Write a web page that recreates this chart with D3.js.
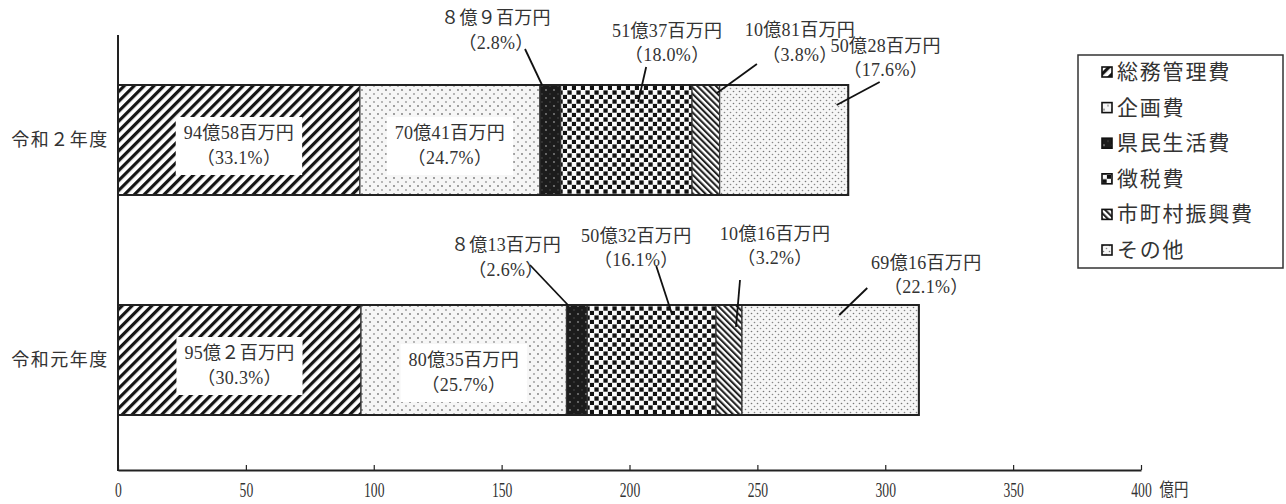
<!DOCTYPE html>
<html><head><meta charset="utf-8">
<script src="https://cdn.jsdelivr.net/npm/d3@7"></script>
<style>
html,body{margin:0;padding:0;background:#fff;}
svg{display:block;}
text{fill:#333;}
</style></head>
<body>
<svg id="chart" width="1286" height="504"></svg>
<script>
// ---------- data ----------
const categories = ["令和２年度", "令和元年度"];
const seriesNames = ["総務管理費", "企画費", "県民生活費", "徴税費", "市町村振興費", "その他"];
const valuesR2 = [94.58, 70.41, 8.09, 51.37, 10.81, 50.28];
const valuesR1 = [95.02, 80.35, 8.13, 50.32, 10.16, 69.16];
const amountLabelsR2 = ["94億58百万円", "70億41百万円", "８億９百万円", "51億37百万円", "10億81百万円", "50億28百万円"];
const amountLabelsR1 = ["95億２百万円", "80億35百万円", "８億13百万円", "50億32百万円", "10億16百万円", "69億16百万円"];
const percentLabelsR2 = ["（33.1%）", "（24.7%）", "（2.8%）", "（18.0%）", "（3.8%）", "（17.6%）"];
const percentLabelsR1 = ["（30.3%）", "（25.7%）", "（2.6%）", "（16.1%）", "（3.2%）", "（22.1%）"];
const xTicks = [0, 50, 100, 150, 200, 250, 300, 350, 400];
const unitLabel = "億円";

// ---------- layout (label placement, not data) ----------
const labelLayout = [
  [ {inside:true, r1:-7, r2:18},
    {inside:true, r1:-7, r2:18},
    {frac:0.1, ey:0, sx:-17, sy:-36, tx:-46, ty1:-67, ty2:-42},
    {frac:0.59, ey:17, sx:8, sy:-35, tx:29, ty1:-71, ty2:-47},
    {frac:0.9, ey:8, sx:40, sy:-29, tx:83, ty1:-63, ty2:-38},
    {frac:0.91, ey:20, sx:43, sy:-23, tx:49, ty1:-59, ty2:-35} ],
  [ {inside:true, r1:-7, r2:18},
    {inside:true, r1:0, r2:25},
    {frac:0.07, ey:0, sx:-38, sy:-40, tx:-62, ty1:-60, ty2:-35},
    {frac:0.66, ey:10, sx:-16, sy:-49, tx:-36, ty1:-79, ty2:-55},
    {frac:0.77, ey:22, sx:4, sy:-47, tx:39, ty1:-93, ty2:-69},
    {frac:0.55, ey:10, sx:28, sy:-27, tx:87, ty1:-52, ty2:-28} ]
];

const svg = d3.select("#chart");
const FONT = "'Liberation Serif','Noto Sans CJK JP',serif";

// ---------- patterns ----------
const defs = svg.append("defs");
function pat(id, w, h, transform) {
  const p = defs.append("pattern").attr("id", id).attr("patternUnits", "userSpaceOnUse")
    .attr("width", w).attr("height", h);
  if (transform) p.attr("patternTransform", transform);
  return p;
}
let p = pat("p0", 7, 7, "rotate(45)");
p.append("rect").attr("width", 7).attr("height", 7).attr("fill", "#fff");
p.append("rect").attr("width", 3.2).attr("height", 7).attr("fill", "#151515");
p = pat("p1", 8, 8);
p.append("rect").attr("width", 8).attr("height", 8).attr("fill", "#f6f6f6");
p.append("circle").attr("cx", 2).attr("cy", 2).attr("r", 0.9).attr("fill", "#777");
p.append("circle").attr("cx", 6).attr("cy", 6).attr("r", 0.9).attr("fill", "#999");
p = pat("p2", 8, 8);
p.append("rect").attr("width", 8).attr("height", 8).attr("fill", "#1c1c1c");
p.append("circle").attr("cx", 2).attr("cy", 2).attr("r", 0.9).attr("fill", "#888");
p.append("circle").attr("cx", 6).attr("cy", 6).attr("r", 0.7).attr("fill", "#555");
p = pat("p3", 9, 9);
p.append("rect").attr("width", 9).attr("height", 9).attr("fill", "#fafafa");
p.append("rect").attr("x", 0.4).attr("y", 0.4).attr("width", 4.3).attr("height", 4.3).attr("fill", "#111");
p.append("rect").attr("x", 4.9).attr("y", 4.9).attr("width", 4.3).attr("height", 4.3).attr("fill", "#111");
p = pat("p4", 4.4, 4.4, "rotate(-45)");
p.append("rect").attr("width", 4.4).attr("height", 4.4).attr("fill", "#fff");
p.append("rect").attr("width", 2.1).attr("height", 4.4).attr("fill", "#222");
p = pat("p5", 6, 6);
p.append("rect").attr("width", 6).attr("height", 6).attr("fill", "#f6f6f6");
p.append("circle").attr("cx", 1.5).attr("cy", 1.5).attr("r", 0.8).attr("fill", "#777");
p.append("circle").attr("cx", 4.5).attr("cy", 4.5).attr("r", 0.8).attr("fill", "#888");

// ---------- scales ----------
const x = d3.scaleLinear().domain([0, 400]).range([118, 1141]);
const y = d3.scaleBand().domain(categories).range([30, 470]).paddingInner(0.5).paddingOuter(0.25);

const allValues = [valuesR2, valuesR1];
const amountLabels = [amountLabelsR2, amountLabelsR1];
const percentLabels = [percentLabelsR2, percentLabelsR1];

const rows = categories.map((c, ci) => {
  let acc = 0;
  return allValues[ci].map((v, si) => {
    const seg = {cat: c, ci, si, x0: acc, x1: acc + v};
    acc += v;
    return seg;
  });
});

// ---------- bars ----------
const gBars = svg.append("g");
rows.forEach(r => {
  gBars.selectAll(null).data(r).enter().append("rect")
    .attr("x", d => x(d.x0))
    .attr("y", d => y(d.cat))
    .attr("width", d => x(d.x1) - x(d.x0))
    .attr("height", y.bandwidth())
    .attr("fill", d => `url(#p${d.si})`)
    .attr("stroke", "#333").attr("stroke-width", 1.2);
  const tot = r[r.length - 1].x1;
  gBars.append("rect").attr("x", x(0)).attr("y", y(r[0].cat))
    .attr("width", x(tot) - x(0)).attr("height", y.bandwidth())
    .attr("fill", "none").attr("stroke", "#222").attr("stroke-width", 2);
});

// ---------- axes ----------
const gx = svg.append("g").attr("transform", `translate(0,${470})`)
  .call(d3.axisBottom(x).tickValues(xTicks).tickSizeInner(-5).tickSizeOuter(0).tickPadding(14).tickFormat(d3.format("d")));
gx.attr("font-family", null).attr("font-size", null);
gx.select(".domain").attr("stroke", "#222").attr("stroke-width", 2);
gx.selectAll(".tick line").attr("stroke", "#222").attr("stroke-width", 1.2);
gx.selectAll(".tick text").attr("y", 20).attr("dy", null).attr("dominant-baseline", "central")
  .attr("transform", "scale(0.62,1)")
  .style("font-family", FONT).style("font-size", "22px").style("fill", "#333");
svg.append("text").attr("transform", "translate(1174,490) scale(0.8,1)").attr("text-anchor", "middle")
  .attr("dominant-baseline", "central").style("font-family", FONT).style("font-size", "18px").text(unitLabel);

const gy = svg.append("g").attr("transform", `translate(${x(0)},0)`)
  .call(d3.axisLeft(y).tickSize(0).tickPadding(0));
gy.attr("font-family", null).attr("font-size", null);
gy.select(".domain").remove();
svg.append("line").attr("x1", x(0)).attr("x2", x(0)).attr("y1", 35).attr("y2", 471)
  .attr("stroke", "#222").attr("stroke-width", 2);
gy.selectAll(".tick text").attr("x", -58).attr("text-anchor", "middle")
  .style("font-family", FONT).style("font-size", "18px").style("fill", "#333").attr("letter-spacing", 1.5);

// ---------- labels ----------
const gL = svg.append("g").style("font-family", FONT).style("font-size", "18px").attr("letter-spacing", 0.3);
rows.forEach((r, ci) => {
  r.forEach((d, si) => {
    const L = labelLayout[ci][si];
    const a = amountLabels[ci][si], pc = percentLabels[ci][si];
    if (L.inside) {
      const cx = (x(d.x0) + x(d.x1)) / 2;
      const cy = y(d.cat) + y.bandwidth() / 2;
      const box = gL.append("rect").attr("fill", "#fff");
      const t1 = gL.append("text").attr("x", cx).attr("y", cy + L.r1).attr("text-anchor", "middle")
        .attr("dominant-baseline", "central").text(a);
      const t2 = gL.append("text").attr("x", cx).attr("y", cy + L.r2).attr("text-anchor", "middle")
        .attr("dominant-baseline", "central").text(pc);
      const w = Math.max(t1.node().getComputedTextLength(), t2.node().getComputedTextLength()) + 16;
      box.attr("x", cx - w / 2).attr("y", cy + L.r1 - 16).attr("width", w).attr("height", L.r2 - L.r1 + 33);
    } else {
      const ex = x(d.x0) + L.frac * (x(d.x1) - x(d.x0));
      const ey = y(d.cat) + L.ey;
      gL.append("line").attr("x1", ex + L.sx).attr("y1", ey + L.sy).attr("x2", ex).attr("y2", ey)
        .attr("stroke", "#111").attr("stroke-width", 1.8);
      gL.append("text").attr("x", ex + L.tx).attr("y", ey + L.ty1).attr("text-anchor", "middle")
        .attr("dominant-baseline", "central").text(a);
      gL.append("text").attr("x", ex + L.tx).attr("y", ey + L.ty2).attr("text-anchor", "middle")
        .attr("dominant-baseline", "central").text(pc);
    }
  });
});

// ---------- legend ----------
const gLeg = svg.append("g").style("font-family", FONT);
gLeg.append("rect").attr("x", 1078).attr("y", 55).attr("width", 205).attr("height", 213)
  .attr("fill", "#fff").attr("stroke", "#333").attr("stroke-width", 1.5);
const items = gLeg.selectAll("g.item").data(seriesNames).enter().append("g")
  .attr("transform", (d, i) => `translate(1102,${72 + i * 35.6})`);
items.append("rect").attr("x", 0).attr("y", -5).attr("width", 10).attr("height", 10)
  .attr("fill", (d, i) => `url(#p${i})`).attr("stroke", "#111").attr("stroke-width", 1.6);
items.append("text").attr("x", 15).attr("y", 0).attr("dominant-baseline", "central")
  .style("font-size", "21px").attr("letter-spacing", 1.8).text(d => d);
</script>
</body></html>
